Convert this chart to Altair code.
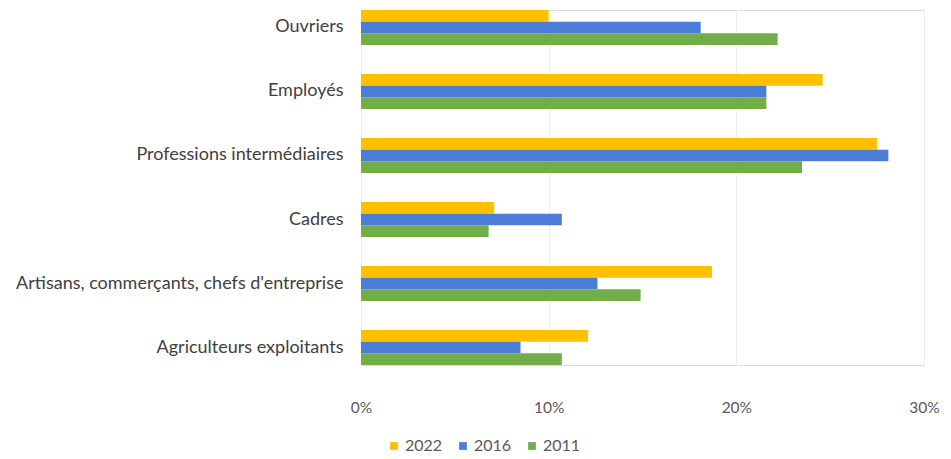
import altair as alt
import pandas as pd

categories = [
    "Ouvriers",
    "Employés",
    "Professions intermédiaires",
    "Cadres",
    "Artisans, commerçants, chefs d'entreprise",
    "Agriculteurs exploitants",
]
years = ["2022", "2016", "2011"]
v2022 = [10.0, 24.6, 27.5, 7.1, 18.7, 12.1]
v2016 = [18.1, 21.6, 28.1, 10.7, 12.6, 8.5]
v2011 = [22.2, 21.6, 23.5, 6.8, 14.9, 10.7]
colors = ["#FFC000", "#4A7DD6", "#72AD4C"]

rows = []
for yr, vals in zip(years, [v2022, v2016, v2011]):
    for c, v in zip(categories, vals):
        rows.append({"cat": c, "year": yr, "value": v / 100})
df = pd.DataFrame(rows)

FONT = "Lato"

chart = (
    alt.Chart(df)
    .mark_bar()
    .encode(
        y=alt.Y(
            "cat:N",
            sort=categories,
            title=None,
            scale=alt.Scale(paddingInner=0.455, paddingOuter=0.0),
            axis=alt.Axis(
                domain=False,
                ticks=False,
                labelPadding=18,
                labelFontSize=18,
                labelColor="#404040",
                labelFont=FONT,
                labelLimit=400,
                grid=False,
            ),
        ),
        yOffset=alt.YOffset("year:N", sort=years, scale=alt.Scale(paddingInner=0, paddingOuter=0)),
        x=alt.X(
            "value:Q",
            title=None,
            scale=alt.Scale(domain=[0, 0.30], nice=False),
            axis=alt.Axis(
                format=".0%",
                values=[0, 0.1, 0.2, 0.3],
                domain=False,
                ticks=False,
                labelFlush=False,
                labelPadding=35,
                labelFontSize=15.5,
                labelColor="#595959",
                labelFont=FONT,
                grid=True,
                gridColor="#EDEDED",
            ),
        ),
        color=alt.Color(
            "year:N",
            sort=years,
            scale=alt.Scale(domain=years, range=colors),
            legend=alt.Legend(
                title=None,
                orient="none",
                legendX=25,
                legendY=428,
                direction="horizontal",
                symbolType="square",
                symbolSize=60,
                symbolStrokeWidth=0,
                labelFontSize=16,
                labelColor="#595959",
                labelFont=FONT,
                columnPadding=12,
                labelOffset=3,
            ),
        ),
    )
    .properties(
        width=563,
        height=355,
        autosize=alt.AutoSizeParams(type="none"),
        padding={"left": 353, "top": 2, "right": 19, "bottom": 90},
    )
    .configure_view(strokeOpacity=0, strokeWidth=0)
    .configure(background="white")
)

chart.save("out.html", embed_options={"renderer": "svg", "actions": False})
